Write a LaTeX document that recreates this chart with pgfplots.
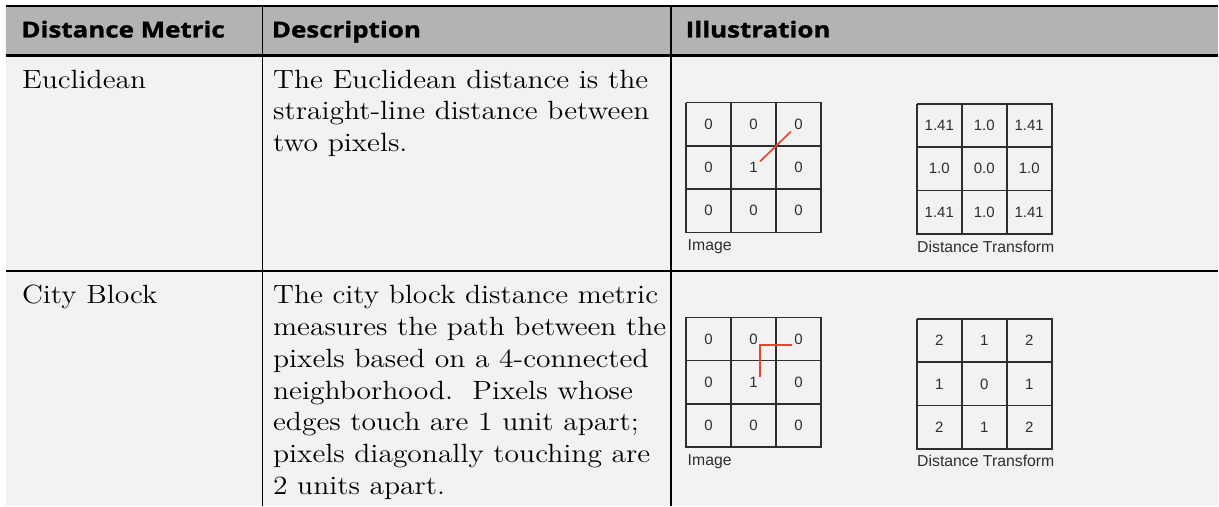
\documentclass[border=0pt]{standalone}
\usepackage{pgfplots}
\usepackage{pgfplotstable}
\pgfplotsset{compat=1.18}
\usepackage{fontspec}
\newfontfamily\bodyfont{Latin Modern Roman}[FakeStretch=1.12]
\newfontfamily\headfont{Open Sans}[FakeStretch=1.18, BoldFeatures={FakeBold=1.3}]
\newfontfamily\illfont{Liberation Sans}
\definecolor{hdr}{HTML}{B3B3B3}
\definecolor{bg}{HTML}{F2F2F2}
\definecolor{gridc}{HTML}{2E2E2E}
\definecolor{redl}{HTML}{E8472E}

\pgfplotstableread{
x y v
709.2 124.3 0
754.2 124.3 0
799.2 124.3 0
709.2 167.7 0
754.2 167.7 1
799.2 167.7 0
709.2 211.0 0
754.2 211.0 0
799.2 211.0 0
}\eucimg
\pgfplotstableread{
x y v
940.2 125.7 1.41
985.2 125.7 1.0
1030.2 125.7 1.41
940.2 169.0 1.0
985.2 169.0 0.0
1030.2 169.0 1.0
940.2 212.3 1.41
985.2 212.3 1.0
1030.2 212.3 1.41
}\eucdt
\pgfplotstableread{
x y v
709.2 339.3 0
754.2 339.3 0
799.2 339.3 0
709.2 382.5 0
754.2 382.5 1
799.2 382.5 0
709.2 425.7 0
754.2 425.7 0
799.2 425.7 0
}\cityimg
\pgfplotstableread{
x y v
940.2 341.0 2
985.2 341.0 1
1030.2 341.0 2
940.2 384.3 1
985.2 384.3 0
1030.2 384.3 1
940.2 427.6 2
985.2 427.6 1
1030.2 427.6 2
}\citydt

\newcommand{\bfnt}{\bodyfont\fontsize{13.2}{15}\selectfont}
\newcommand{\hfnt}{\headfont\bfseries\fontsize{11}{13}\selectfont}

\begin{document}
\begin{tikzpicture}
\begin{axis}[x=0.5pt, y=0.5pt, xmin=0, xmax=1219, ymin=0, ymax=506,
  y dir=reverse, hide axis, clip=false, scale only axis,
  unbounded coords=jump,
  cellnum/.style={draw=none, mark=none,
    nodes near coords, point meta=explicit symbolic,
    every node near coord/.append style={anchor=center, inner sep=0pt,
      font=\illfont\fontsize{7.5}{8}\selectfont, text=gridc}},
  gl/.style={gridc, line width=0.85pt, mark=none},
]
% backgrounds
\addplot[fill=white, draw=none, mark=none] coordinates {(0,0)(1219,0)(1219,506)(0,506)(0,0)};
\addplot[fill=hdr, draw=none, mark=none] coordinates {(6,6)(1219,6)(1219,55.5)(6,55.5)(6,6)};
\addplot[fill=bg, draw=none, mark=none] coordinates {(6,55.5)(1219,55.5)(1219,506)(6,506)(6,55.5)};
% table rules
\addplot[black, line width=0.85pt, mark=none] coordinates {(262.7,6)(262.7,506) (nan,nan) (671.7,6)(671.7,506)};
\addplot[black, line width=1.2pt, mark=none] coordinates {(6,6.2)(1219,6.2)};
\addplot[black, line width=1.1pt, mark=none] coordinates {(6,55.5)(1219,55.5)};
\addplot[black, line width=1.1pt, mark=none] coordinates {(6,271)(1219,271)};

% grids
\addplot[gl] coordinates {(686.7,102.7)(821.7,102.7)(821.7,232.7)(686.7,232.7)(686.7,102.7)
 (nan,nan) (731.7,102.7)(731.7,232.7) (nan,nan) (776.7,102.7)(776.7,232.7)
 (nan,nan) (686.7,146)(821.7,146) (nan,nan) (686.7,189.3)(821.7,189.3)};
\addplot[gl] coordinates {(917.7,104)(1052.7,104)(1052.7,234)(917.7,234)(917.7,104)
 (nan,nan) (962.7,104)(962.7,234) (nan,nan) (1007.7,104)(1007.7,234)
 (nan,nan) (917.7,147.3)(1052.7,147.3) (nan,nan) (917.7,190.7)(1052.7,190.7)};
\addplot[gl] coordinates {(686.7,317.7)(821.7,317.7)(821.7,447.3)(686.7,447.3)(686.7,317.7)
 (nan,nan) (731.7,317.7)(731.7,447.3) (nan,nan) (776.7,317.7)(776.7,447.3)
 (nan,nan) (686.7,360.9)(821.7,360.9) (nan,nan) (686.7,404.1)(821.7,404.1)};
\addplot[gl] coordinates {(917.7,319.3)(1052.7,319.3)(1052.7,449.3)(917.7,449.3)(917.7,319.3)
 (nan,nan) (962.7,319.3)(962.7,449.3) (nan,nan) (1007.7,319.3)(1007.7,449.3)
 (nan,nan) (917.7,362.6)(1052.7,362.6) (nan,nan) (917.7,405.9)(1052.7,405.9)};

% red paths
\addplot[redl, line width=0.85pt, mark=none] coordinates {(760.7,161.7)(791.7,131.7)};
\addplot[redl, line width=0.85pt, mark=none] coordinates {(760.7,377.7)(760.7,345)(792.7,345)};

% cell values
\addplot[cellnum] table[x=x, y=y, meta=v] {\eucimg};
\addplot[cellnum] table[x=x, y=y, meta=v] {\eucdt};
\addplot[cellnum] table[x=x, y=y, meta=v] {\cityimg};
\addplot[cellnum] table[x=x, y=y, meta=v] {\citydt};

% header text
\node[anchor=base west, inner sep=0pt] at (axis cs:21,37.5) {\hfnt Distance Metric};
\node[anchor=base west, inner sep=0pt] at (axis cs:271.7,37.5) {\hfnt Description};
\node[anchor=base west, inner sep=0pt] at (axis cs:686,37.5) {\hfnt Illustration};

% body text
\node[anchor=base west, inner sep=0pt] at (axis cs:21.7,88.3) {\bfnt Euclidean};
\node[anchor=base west, inner sep=0pt] at (axis cs:273,88.3) {\bfnt The Euclidean distance is the};
\node[anchor=base west, inner sep=0pt] at (axis cs:273,120) {\bfnt straight-line distance between};
\node[anchor=base west, inner sep=0pt] at (axis cs:273,151.7) {\bfnt two pixels.};

\node[anchor=base west, inner sep=0pt] at (axis cs:21.7,304) {\bfnt City Block};
\node[anchor=base west, inner sep=0pt] at (axis cs:273,304) {\bfnt The city block distance metric};
\node[anchor=base west, inner sep=0pt] at (axis cs:273,335.8) {\bfnt measures the path between the};
\node[anchor=base west, inner sep=0pt] at (axis cs:273,367.6) {\bfnt pixels based on a 4-connected};
\node[anchor=base west, inner sep=0pt] at (axis cs:273,399.4) {\bfnt neighborhood.\ \ Pixels whose};
\node[anchor=base west, inner sep=0pt] at (axis cs:273,431.2) {\bfnt edges touch are 1 unit apart;};
\node[anchor=base west, inner sep=0pt] at (axis cs:273,463) {\bfnt pixels diagonally touching are};
\node[anchor=base west, inner sep=0pt] at (axis cs:273,494.8) {\bfnt 2 units apart.};

% illustration captions
\node[anchor=west, inner sep=0pt, text=gridc] at (axis cs:688,246.7) {\illfont\fontsize{7.9}{9}\selectfont Image};
\node[anchor=west, inner sep=0pt, text=gridc] at (axis cs:917.7,246.7) {\illfont\fontsize{7.9}{9}\selectfont Distance Transform};
\node[anchor=west, inner sep=0pt, text=gridc] at (axis cs:688,461.7) {\illfont\fontsize{7.9}{9}\selectfont Image};
\node[anchor=west, inner sep=0pt, text=gridc] at (axis cs:917.7,461.7) {\illfont\fontsize{7.9}{9}\selectfont Distance Transform};
\end{axis}
\end{tikzpicture}
\end{document}
